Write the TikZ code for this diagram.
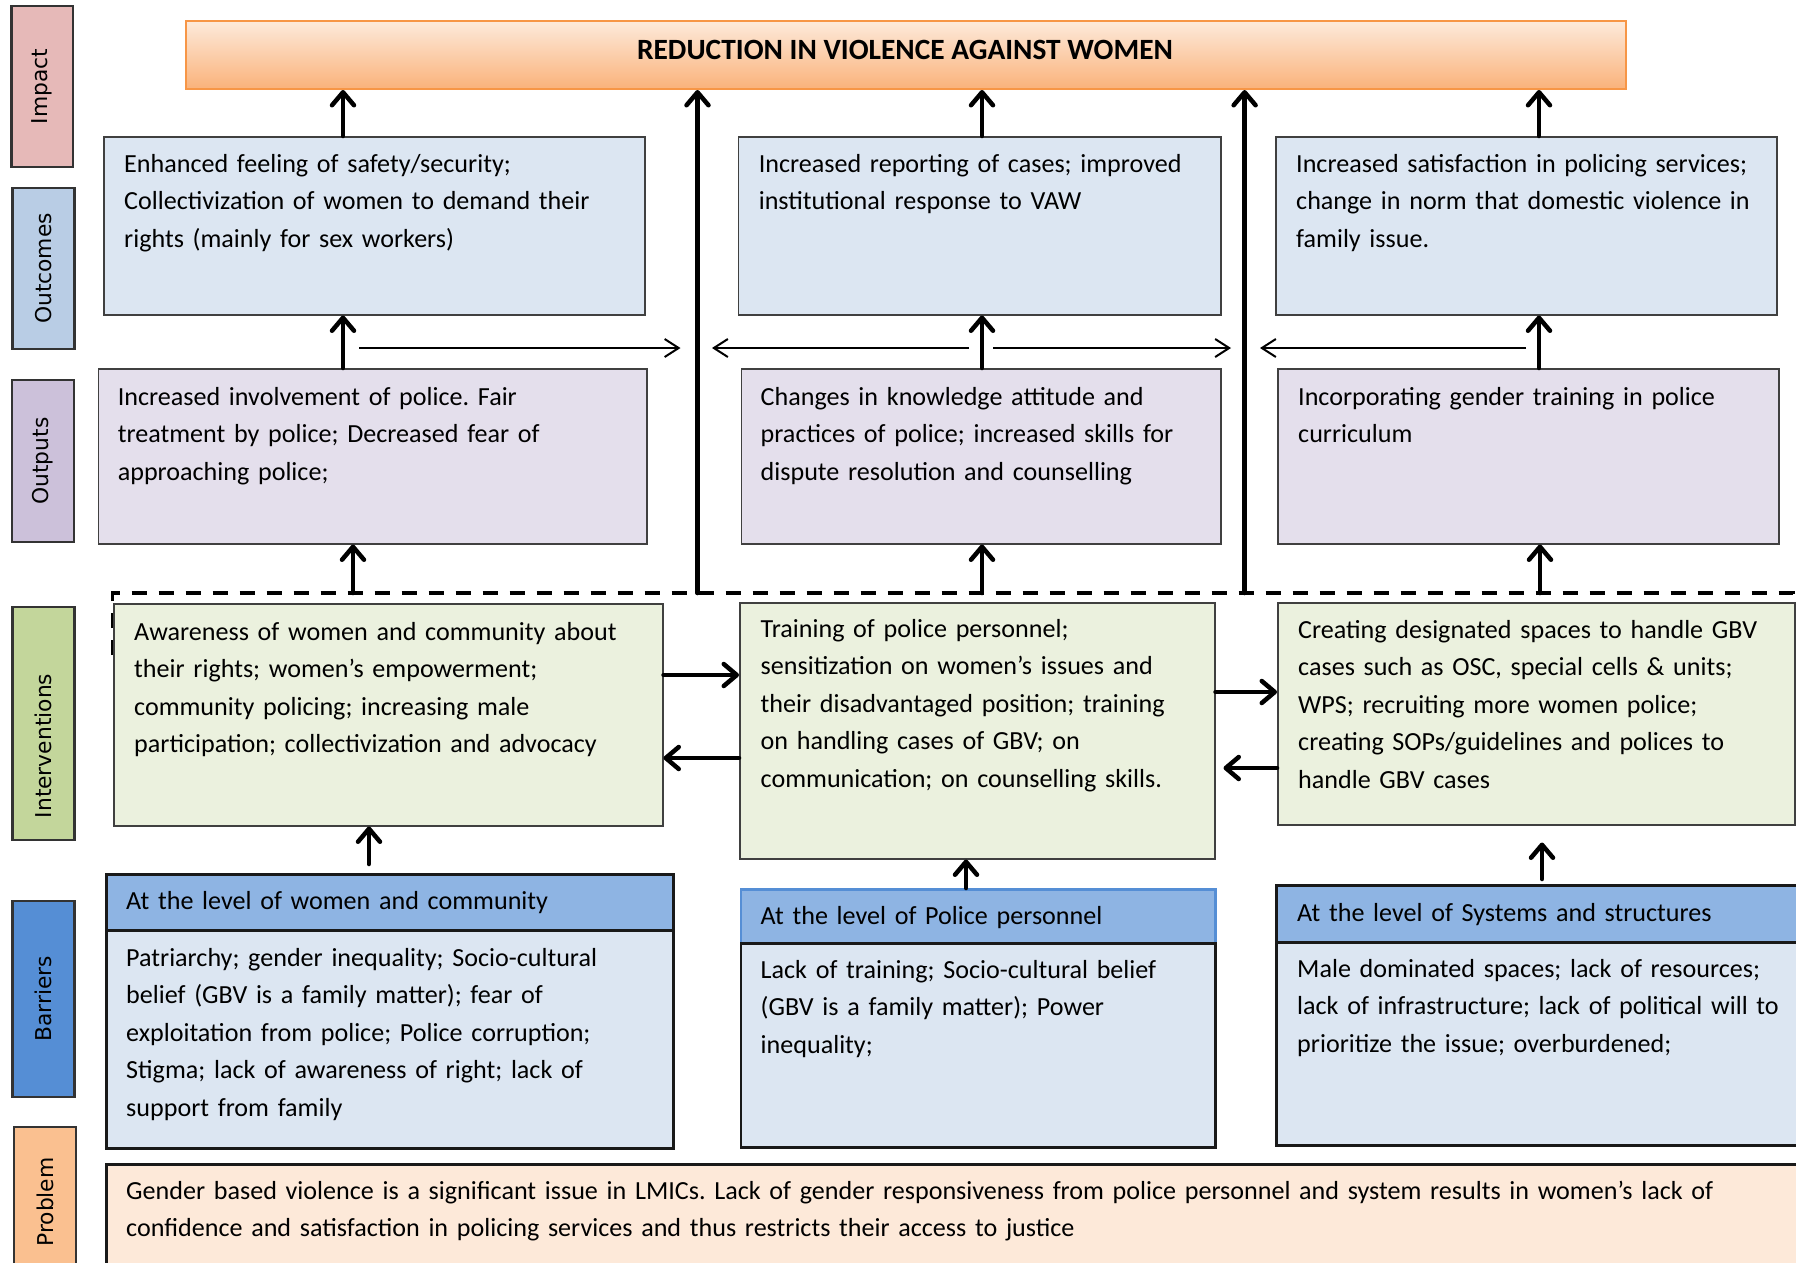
\documentclass[tikz,border=0pt]{standalone}
\usepackage{fontspec}
\setmainfont{Carlito}
\newfontfamily\lblfamily{DejaVu Sans}
\usetikzlibrary{arrows.meta,calc}
\definecolor{cImpL}{HTML}{E6B9B8}
\definecolor{cOutL}{HTML}{B9CDE5}
\definecolor{cOpL}{HTML}{CCC1DA}
\definecolor{cIntL}{HTML}{C3D69B}
\definecolor{cBarL}{HTML}{558ED5}
\definecolor{cProbL}{HTML}{FAC090}
\definecolor{cOutc}{HTML}{DCE6F2}
\definecolor{cOutp}{HTML}{E4DFEC}
\definecolor{cInt}{HTML}{EBF1DE}
\definecolor{cBarH}{HTML}{8EB4E3}
\definecolor{cBarB}{HTML}{DCE6F2}
\definecolor{cProb}{HTML}{FDE9D9}
\definecolor{cImpB}{HTML}{F79646}
\definecolor{cImpT}{HTML}{FDEADB}
\definecolor{cImpBot}{HTML}{FAB27A}
\newcommand\bodyfnt{\frenchspacing\fontsize{26.1}{37.5}\selectfont\spaceskip=5.05pt\relax}
\newcommand\lblfnt{\lblfamily\fontsize{21.8}{25}\selectfont}
\begin{document}
\begin{tikzpicture}[x=1pt,y=-1pt,
  lbl/.style={draw=black!80, line width=2.5pt, inner sep=0pt, rotate=90, font=\lblfnt},
  box/.style={draw=black!75, line width=1.5pt, inner sep=0pt, anchor=north west},
  bbox/.style={draw=black!90, line width=2.5pt, inner sep=0pt, anchor=north west},
  txt/.style={anchor=base west, inner sep=0pt, align=left, text width=1900pt, font=\bodyfnt},
  thk/.style={line width=4.5pt, line cap=round, -{Straight Barb[length=13pt,width=22pt,round]}},
  thn/.style={line width=2pt, -{Straight Barb[length=14pt,width=18pt]}},
  dsh/.style={line width=3.3pt, dash pattern=on 15pt off 12pt},
]
\useasboundingbox (0,0) rectangle (1796,1262);
\clip (0,0) rectangle (1796,1262);
\fill[white] (0,0) rectangle (1796,1262);

% left labels
\node[lbl, fill=cImpL, minimum width=161pt, minimum height=61.5pt] (lImp) at (42.3,86.5) {Impact};
\node[lbl, fill=cOutL, minimum width=161pt, minimum height=62pt] (lOut) at (43.6,268.5) {Outcomes};
\node[lbl, fill=cOpL, minimum width=162pt, minimum height=62pt] (lOp) at (43,461) {Outputs};
\node[lbl, fill=cIntL, minimum width=233pt, minimum height=62pt] (lInt) at (43.6,723.5) {};
\node[rotate=90, inner sep=0pt, font=\lblfnt] (lIntT) at (43.6,746) {Interventions};
\node[lbl, fill=cBarL, minimum width=196pt, minimum height=62pt] (lBar) at (43.6,999) {Barriers};
\node[lbl, fill=cProbL, minimum width=150pt, minimum height=62pt] (lProb) at (45,1202) {Problem};

% column coordinates
\coordinate (cA) at (343,0);
\coordinate (cB) at (982,0);
\coordinate (cC) at (1539,0);
\coordinate (cD) at (353,0);
\coordinate (cE) at (1540,0);
\coordinate (cF) at (369,0);
\coordinate (cG) at (966,0);
\coordinate (cH) at (1542,0);
\coordinate (h) at (0,348);
\coordinate (r1) at (0,675);
\coordinate (r2) at (0,758);
\coordinate (r3) at (0,692);
\coordinate (r4) at (0,768);

% dashed frame of interventions
\coordinate (dL) at (112.7,593);
\coordinate (dR) at (1793,593);
\coordinate (dLb) at (112.7,655);
\coordinate (dRb) at (1793,690);
\draw[dsh] (dLb) -- (dL) -- (dR) -- (dRb);

% impact
\node[draw=cImpB, line width=2pt, top color=cImpT, bottom color=cImpBot, minimum width=1440pt, minimum height=68pt, anchor=north west, inner sep=0pt] (imp) at (185,20) {};
\node[font=\fontsize{29.4}{34}\selectfont\bfseries, anchor=base, inner sep=0pt] (impT) at (905,59.5) {REDUCTION IN VIOLENCE AGAINST WOMEN};

% outcomes
\node[box, fill=cOutc, minimum width=541pt, minimum height=178pt] (o1) at (103,136) {};
\node[box, fill=cOutc, minimum width=482.4pt, minimum height=178pt] (o2) at (737.6,136) {};
\node[box, fill=cOutc, minimum width=501pt, minimum height=178pt] (o3) at (1275,136) {};
\node[txt] (o1t) at ([xshift=21pt,yshift=-36pt]o1.north west) {Enhanced feeling of safety/security;\\Collectivization of women to demand their\\rights (mainly for sex workers)};
\node[txt] (o2t) at ([xshift=21pt,yshift=-36pt]o2.north west) {Increased reporting of cases; improved\\institutional response to VAW};
\node[txt] (o3t) at ([xshift=21pt,yshift=-36pt]o3.north west) {Increased satisfaction in policing services;\\change in norm that domestic violence in\\family issue.};

% outputs
\node[box, fill=cOutp, minimum width=548.4pt, minimum height=175pt] (p1) at (97.6,368) {};
\node[box, fill=cOutp, minimum width=479.5pt, minimum height=175pt] (p2) at (740.5,368) {};
\node[box, fill=cOutp, minimum width=501pt, minimum height=175pt] (p3) at (1277,368) {};
\node[txt] (p1t) at ([xshift=20pt,yshift=-37pt]p1.north west) {Increased involvement of police. Fair\\treatment by police; Decreased fear of\\approaching police;};
\node[txt] (p2t) at ([xshift=20pt,yshift=-37pt]p2.north west) {Changes in knowledge attitude and\\practices of police; increased skills for\\dispute resolution and counselling};
\node[txt] (p3t) at ([xshift=21pt,yshift=-37pt]p3.north west) {Incorporating gender training in police\\curriculum};

% interventions
\node[box, fill=cInt, minimum width=549pt, minimum height=222pt] (i1) at (113,603) {};
\node[box, fill=cInt, minimum width=475pt, minimum height=256pt] (i2) at (739,602) {};
\node[box, fill=cInt, minimum width=517pt, minimum height=222pt] (i3) at (1277,602) {};
\node[txt] (i1t) at ([xshift=21pt,yshift=-37pt]i1.north west) {Awareness of women and community about\\their rights; women’s empowerment;\\community policing; increasing male\\participation; collectivization and advocacy};
\node[txt] (i2t) at ([xshift=21.5pt,yshift=-35pt]i2.north west) {Training of police personnel;\\sensitization on women’s issues and\\their disadvantaged position; training\\on handling cases of GBV; on\\communication; on counselling skills.};
\node[txt] (i3t) at ([xshift=21pt,yshift=-36pt]i3.north west) {Creating designated spaces to handle GBV\\cases such as OSC, special cells \& units;\\WPS; recruiting more women police;\\creating SOPs/guidelines and polices to\\handle GBV cases};

% barriers
\node[bbox, fill=cBarH, minimum width=567pt, minimum height=56pt] (b1h) at (105,873) {};
\node[bbox, fill=cBarB, minimum width=567pt, minimum height=218pt] (b1) at (105,929) {};
\node[bbox, draw=cBarL, fill=cBarH, minimum width=474.5pt, minimum height=54pt] (b2h) at (739.5,888) {};
\node[bbox, fill=cBarB, minimum width=474.5pt, minimum height=204pt] (b2) at (739.5,942) {};
\node[bbox, fill=cBarH, minimum width=540pt, minimum height=57pt] (b3h) at (1275,884) {};
\node[bbox, fill=cBarB, minimum width=540pt, minimum height=203pt] (b3) at (1275,941) {};
\node[txt] (b1ht) at ([xshift=21pt,yshift=-36pt]b1h.north west) {At the level of women and community};
\node[txt] (b2ht) at ([xshift=21pt,yshift=-36pt]b2h.north west) {At the level of Police personnel};
\node[txt] (b3ht) at ([xshift=22pt,yshift=-37pt]b3h.north west) {At the level of Systems and structures};
\node[txt] (b1t) at ([xshift=21pt,yshift=-37pt]b1.north west) {Patriarchy; gender inequality; Socio-cultural\\belief (GBV is a family matter); fear of\\exploitation from police; Police corruption;\\Stigma; lack of awareness of right; lack of\\support from family};
\node[txt] (b2t) at ([xshift=21pt,yshift=-36pt]b2.north west) {Lack of training; Socio-cultural belief\\(GBV is a family matter); Power\\inequality;};
\node[txt] (b3t) at ([xshift=22pt,yshift=-36pt]b3.north west) {Male dominated spaces; lack of resources;\\lack of infrastructure; lack of political will to\\prioritize the issue; overburdened;};

% problem
\node[bbox, fill=cProb, minimum width=1720pt, minimum height=130pt] (pr) at (105,1163) {};
\node[txt] (prt) at ([xshift=21pt,yshift=-36pt]pr.north west) {Gender based violence is a significant issue in LMICs. Lack of gender responsiveness from police personnel and system results in women’s lack of\\confidence and satisfaction in policing services and thus restricts their access to justice};

% long vertical lines to impact
\coordinate (v1) at (697.5,593);
\coordinate (v2) at (1244.6,593);
\draw[thk] (v1) -- (v1 |- imp.south);
\draw[thk] (v2) -- (v2 |- imp.south);

% outcomes -> impact
\draw[thk] (cA |- o1.north) -- (cA |- imp.south);
\draw[thk] (cB |- o2.north) -- (cB |- imp.south);
\draw[thk] (cC |- o3.north) -- (cC |- imp.south);

% outputs -> outcomes
\draw[thk] (cA |- p1.north) -- (cA |- o1.south);
\draw[thk] (cB |- p2.north) -- (cB |- o2.south);
\draw[thk] (cC |- p3.north) -- (cC |- o3.south);

% interventions -> outputs
\draw[thk] (cD |- dL) -- (cD |- p1.south);
\draw[thk] (cB |- dL) -- (cB |- p2.south);
\draw[thk] (cE |- dL) -- (cE |- p3.south);

% thin horizontal arrows
\draw[thn] ($(cA |- h)+(16,0)$) -- ($(v1 |- h)+(-17,0)$);
\draw[thn] ($(cB |- h)+(-13,0)$) -- ($(v1 |- h)+(14.5,0)$);
\draw[thn] ($(cB |- h)+(11,0)$) -- ($(v2 |- h)+(-13.6,0)$);
\draw[thn] ($(cC |- h)+(-13,0)$) -- ($(v2 |- h)+(15.4,0)$);

% between interventions
\draw[thk] (i1.east |- r1) -- (i2.west |- r1);
\draw[thk] (i2.west |- r2) -- (i1.east |- r2);
\draw[thk] (i2.east |- r3) -- (i3.west |- r3);
\draw[thk] (i3.west |- r4) -- ($(i2.east |- r4)+(8,0)$);

% barriers -> interventions
\draw[thk] ($(cF |- b1h.north)+(0,-9)$) -- (cF |- i1.south);
\draw[thk] (cG |- b2h.north) -- (cG |- i2.south);
\draw[thk] ($(cH |- b3h.north)+(0,-5)$) -- ($(cH |- i3.south)+(0,17)$);
\end{tikzpicture}
\end{document}
